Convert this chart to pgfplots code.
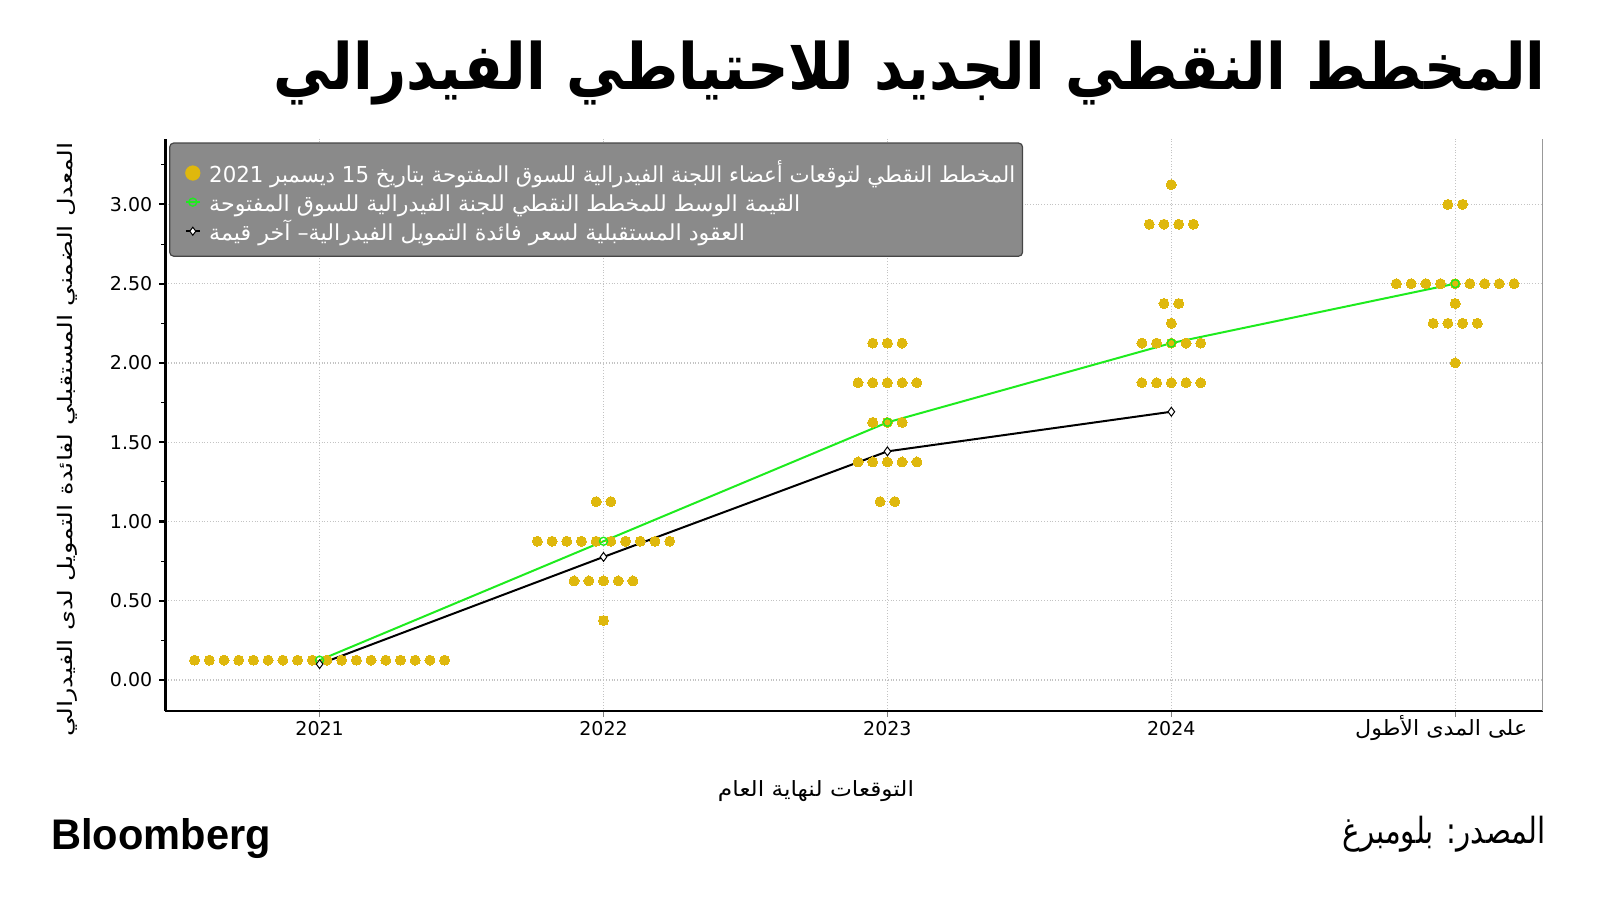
\documentclass[border=0pt]{standalone}
\usepackage{pgfplots}
\pgfplotsset{compat=1.18}
\usepackage{graphicx}
\usepackage{fontspec}
\setmainfont{DejaVu Sans}
\newfontfamily\arabicfont[Script=Arabic]{DejaVu Sans}
\newfontfamily\lsans{Liberation Sans}
\TeXXeTstate=1
\newcommand{\AR}[1]{{\arabicfont\beginR #1\endR}}
\definecolor{dotc}{RGB}{223,184,13}
\definecolor{greenc}{RGB}{30,235,30}
\definecolor{leggray}{RGB}{138,138,138}
\definecolor{legborder}{RGB}{70,70,70}
\definecolor{gridc}{RGB}{195,195,195}
\begin{document}
\begin{tikzpicture}[x=0.5bp,y=0.5bp]
\path[use as bounding box] (0,0) rectangle (1600,914);
\begin{axis}[
  at={(82.65bp,101.4bp)}, anchor=south west,
  scale only axis, width=688.8bp, height=286.2bp,
  xmin=-0.5435, xmax=4.309, ymin=-0.197, ymax=3.414,
  axis x line*=bottom, axis y line*=left,
  axis line style={line width=1.2bp, black},
  xtick={0,1,2,3,4},
  xticklabels={2021,2022,2023,2024,{\hspace*{-14bp}\resizebox{86bp}{\height}{\fontsize{10.5bp}{12bp}\selectfont\arabicfont\beginR على المدى الأطول\endR}}},
  xticklabel style={anchor=base, yshift=-9.2bp},
  ytick={0,0.5,1,1.5,2,2.5,3},
  minor ytick={0.25,0.75,1.25,1.75,2.25,2.75,3.25},
  tick align=outside,
  major tick length=3bp, minor tick length=2bp,
  ytick style={line width=1.1bp, black},
  minor y tick style={line width=0.5bp, black},
  xtick style={line width=0.5bp, gray},
  grid=major,
  major grid style={densely dotted, gridc, line width=0.6bp},
  tick label style={font=\fontsize{9.5bp}{11bp}\selectfont, black},
  /pgf/number format/assume math mode=true,
  yticklabel style={/pgf/number format/fixed, /pgf/number format/fixed zerofill, /pgf/number format/precision=2},
  legend cell align=left,
  legend style={at={(0.01416,0.961)}, anchor=north west, draw=none, fill=none,
    inner sep=0pt, outer sep=0pt, row sep=0pt, column sep=4.2bp,
    font=\fontsize{11bp}{13bp}\selectfont, text=white,
    nodes={inner sep=0pt, text height=10.5bp, text depth=4.05bp}},
]
\filldraw[fill=leggray, draw=legborder, line width=0.6bp, rounded corners=2bp] (axis cs:-0.528,3.387) rectangle (axis cs:2.476,2.673);
\draw[gray!80, line width=0.6bp] (rel axis cs:1,0) -- (rel axis cs:1,1);

\addplot[only marks, color=dotc, mark=*, mark size=2.5bp, mark options={draw=dotc, fill=dotc, line width=0pt},
  legend image code/.code={\fill[dotc] (3.5bp,1.3bp) circle (3.6bp);}]
  coordinates {
  (-0.4403,0.125) (-0.3885,0.125) (-0.3367,0.125) (-0.2849,0.125) (-0.2331,0.125) (-0.1813,0.125)
  (-0.1295,0.125) (-0.0777,0.125) (-0.0259,0.125) (0.0259,0.125) (0.0777,0.125) (0.1295,0.125)
  (0.1813,0.125) (0.2331,0.125) (0.2849,0.125) (0.3367,0.125) (0.3885,0.125) (0.4403,0.125)
  (0.9741,1.125) (1.0259,1.125)
  (0.7669,0.875) (0.8187,0.875) (0.8705,0.875) (0.9223,0.875) (0.9741,0.875)
  (1.0259,0.875) (1.0777,0.875) (1.1295,0.875) (1.1813,0.875) (1.2331,0.875)
  (0.8964,0.625) (0.9482,0.625) (1,0.625) (1.0518,0.625) (1.1036,0.625)
  (1,0.375)
  (1.9482,2.125) (2,2.125) (2.0518,2.125)
  (1.8964,1.875) (1.9482,1.875) (2,1.875) (2.0518,1.875) (2.1036,1.875)
  (1.9482,1.625) (2,1.625) (2.0518,1.625)
  (1.8964,1.375) (1.9482,1.375) (2,1.375) (2.0518,1.375) (2.1036,1.375)
  (1.9741,1.125) (2.0259,1.125)
  (3,3.125)
  (2.9223,2.875) (2.9741,2.875) (3.0259,2.875) (3.0777,2.875)
  (2.9741,2.375) (3.0259,2.375)
  (3,2.25)
  (2.8964,2.125) (2.9482,2.125) (3,2.125) (3.0518,2.125) (3.1036,2.125)
  (2.8964,1.875) (2.9482,1.875) (3,1.875) (3.0518,1.875) (3.1036,1.875)
  (3.9741,3.0) (4.0259,3.0)
  (3.7928,2.5) (3.8446,2.5) (3.8964,2.5) (3.9482,2.5) (4,2.5) (4.0518,2.5) (4.1036,2.5) (4.1554,2.5) (4.2072,2.5)
  (4,2.375)
  (3.9223,2.25) (3.9741,2.25) (4.0259,2.25) (4.0777,2.25)
  (4,2.0)
  };
\addlegendentry{\resizebox{403bp}{\height}{\AR{المخطط النقطي لتوقعات أعضاء اللجنة الفيدرالية للسوق المفتوحة بتاريخ \beginL 15\endL{} ديسمبر \beginL 2021\endL}}}

\addplot[greenc, line width=1bp, mark=o, mark size=2bp, mark options={greenc, line width=0.7bp, fill=none},
  legend image code/.code={\path (0bp,1.3bp) -- (7bp,1.3bp); \draw[greenc, line width=0.7bp] (3.5bp,1.3bp) circle (2bp);}]
  coordinates {(0,0.125) (1,0.875) (2,1.625) (3,2.125) (4,2.5)};
\addlegendentry{\resizebox{295.5bp}{\height}{\AR{القيمة الوسط للمخطط النقطي للجنة الفيدرالية للسوق المفتوحة}}}

\addplot[black, line width=1bp, mark=diamond*, mark size=2.2bp, mark options={black, fill=white, line width=0.5bp},
  legend image code/.code={\path (0bp,1.3bp) -- (7bp,1.3bp); \draw[black, fill=white, line width=0.5bp] (3.5bp,3.3bp) -- (5bp,1.3bp) -- (3.5bp,-0.7bp) -- (2bp,1.3bp) -- cycle;}]
  coordinates {(0,0.10) (1,0.776) (2,1.442) (3,1.692)};
\addlegendentry{\resizebox{267.9bp}{\height}{\AR{العقود المستقبلية لسعر فائدة التمويل الفيدرالية– آخر قيمة}}}
\end{axis}

\node[anchor=base east, inner sep=0pt] at (1546,824.2) {\resizebox{636bp}{\height}{\fontsize{32bp}{36bp}\selectfont\arabicfont\bfseries\beginR المخطط النقطي الجديد للاحتياطي الفيدرالي\endR}};
\node[rotate=90, anchor=center, inner sep=0pt] at (67.3,474.2) {\resizebox{297bp}{\height}{\fontsize{10bp}{12bp}\selectfont\AR{المعدل الضمني المستقبلي لفائدة التمويل لدى الفيدرالي}}};
\node[anchor=base, inner sep=0pt] at (816,118) {\resizebox{98bp}{\height}{\fontsize{10.5bp}{12bp}\selectfont\AR{التوقعات لنهاية العام}}};
\node[anchor=base west, inner sep=0pt] at (51,65) {\resizebox{109.7bp}{\height}{\fontsize{21.4bp}{24bp}\selectfont\lsans\bfseries Bloomberg}};
\node[anchor=base east, inner sep=0pt] at (1546,71) {\resizebox{101.5bp}{\height}{\fontsize{18bp}{20bp}\selectfont\AR{المصدر: بلومبرغ}}};
\end{tikzpicture}
\end{document}
